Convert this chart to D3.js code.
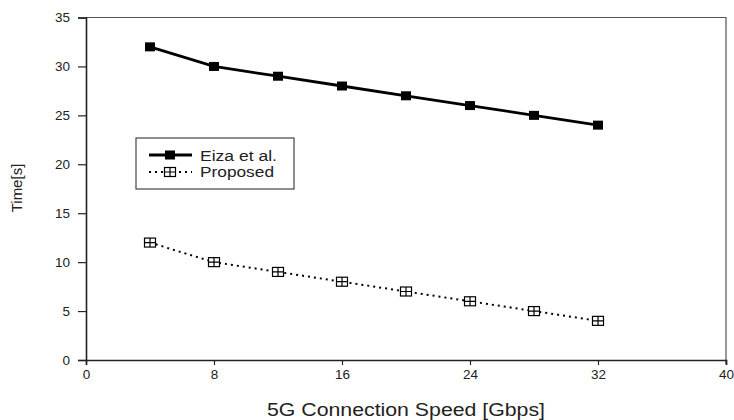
<!DOCTYPE html>
<html>
<head>
<meta charset="utf-8">
<script src="https://cdn.jsdelivr.net/npm/d3@7"></script>
<style>
  body { margin: 0; background: #fff; }
  svg text { font-family: "Liberation Sans", Arial, sans-serif; fill: #222; }
</style>
</head>
<body>
<svg id="chart" width="734" height="420"></svg>
<script>
// chart data
var speeds = [4, 8, 12, 16, 20, 24, 28, 32];
var eizaTimes = [32, 30, 29, 28, 27, 26, 25, 24];
var proposedTimes = [12, 10, 9, 8, 7, 6, 5, 4];
var xTicks = [0, 8, 16, 24, 32, 40];
var yTicks = [0, 5, 10, 15, 20, 25, 30, 35];
var seriesNames = ["Eiza et al.", "Proposed"];

var margin = { top: 17.5, right: 8, bottom: 60, left: 86 };
var width = 734 - margin.left - margin.right;
var height = 420 - margin.top - margin.bottom;

var svg = d3.select("#chart");
var g = svg.append("g")
  .attr("transform", "translate(" + margin.left + "," + margin.top + ")");

var x = d3.scaleLinear().domain([0, 40]).range([0, width]);
var y = d3.scaleLinear().domain([0, 35]).range([height, 0]);

// frame (top and right)
g.append("path")
  .attr("d", "M0,0H" + width + "V" + (height + 4))
  .attr("fill", "none")
  .attr("stroke", "#555")
  .attr("stroke-width", 1.2);

// axes
var xAxis = g.append("g")
  .attr("transform", "translate(0," + height + ")")
  .call(d3.axisBottom(x).tickValues(xTicks).tickSize(5).tickPadding(4));
var yAxis = g.append("g")
  .call(d3.axisLeft(y).tickValues(yTicks).tickSize(8).tickPadding(8));

[xAxis, yAxis].forEach(function (a) {
  a.select(".domain").attr("stroke", "#222").attr("stroke-width", 1.6);
  a.selectAll(".tick line").attr("stroke", "#222").attr("stroke-width", 1.2);
  a.selectAll("text").attr("font-size", 13.5).attr("fill", "#333");
});

// axis titles
svg.append("text")
  .attr("x", 267)
  .attr("y", 416)
  .attr("font-size", 18)
  .attr("textLength", 278)
  .attr("lengthAdjust", "spacingAndGlyphs")
  .text("5G Connection Speed [Gbps]");

svg.append("text")
  .attr("transform", "translate(22,188) rotate(-90)")
  .attr("text-anchor", "middle")
  .attr("font-size", 15)
  .text("Time[s]");

var line = d3.line()
  .x(function (d) { return x(d[0]); })
  .y(function (d) { return y(d[1]); });

var eiza = d3.zip(speeds, eizaTimes);
var proposed = d3.zip(speeds, proposedTimes);

// Eiza et al. series
g.append("path")
  .datum(eiza)
  .attr("fill", "none")
  .attr("stroke", "#000")
  .attr("stroke-width", 2.8)
  .attr("d", line);

g.selectAll(".eiza-marker")
  .data(eiza)
  .enter()
  .append("rect")
  .attr("class", "eiza-marker")
  .attr("x", function (d) { return x(d[0]) - 5; })
  .attr("y", function (d) { return y(d[1]) - 4.5; })
  .attr("width", 10)
  .attr("height", 9)
  .attr("fill", "#000");

// Proposed series
g.append("path")
  .datum(proposed)
  .attr("fill", "none")
  .attr("stroke", "#000")
  .attr("stroke-width", 2)
  .attr("stroke-dasharray", "2,4")
  .attr("d", line);

function crossSquare(sel, cx, cy) {
  sel.append("rect")
    .attr("x", cx - 5.5).attr("y", cy - 4.5)
    .attr("width", 11).attr("height", 9)
    .attr("fill", "#fff").attr("stroke", "#000").attr("stroke-width", 1.2);
  sel.append("path")
    .attr("d", "M" + (cx - 5.5) + "," + cy + "H" + (cx + 5.5) + "M" + cx + "," + (cy - 4.5) + "V" + (cy + 4.5))
    .attr("stroke", "#000").attr("stroke-width", 1.2);
}

proposed.forEach(function (d) {
  crossSquare(g.append("g"), x(d[0]), y(d[1]));
});

// legend
var legend = svg.append("g").attr("transform", "translate(136,138)");
legend.append("rect")
  .attr("width", 158).attr("height", 51)
  .attr("fill", "#fff").attr("stroke", "#444").attr("stroke-width", 1.2);

legend.append("line")
  .attr("x1", 13).attr("x2", 56).attr("y1", 17).attr("y2", 17)
  .attr("stroke", "#000").attr("stroke-width", 2.8);
legend.append("rect")
  .attr("x", 29).attr("y", 12.5).attr("width", 10).attr("height", 9).attr("fill", "#000");
legend.append("text")
  .attr("x", 64).attr("y", 23).attr("font-size", 14)
  .attr("textLength", 77).attr("lengthAdjust", "spacingAndGlyphs")
  .text(seriesNames[0]);

legend.append("line")
  .attr("x1", 13).attr("x2", 56).attr("y1", 34).attr("y2", 34)
  .attr("stroke", "#000").attr("stroke-width", 2).attr("stroke-dasharray", "2,4");
crossSquare(legend.append("g"), 34, 34);
legend.append("text")
  .attr("x", 64).attr("y", 39).attr("font-size", 14)
  .attr("textLength", 74).attr("lengthAdjust", "spacingAndGlyphs")
  .text(seriesNames[1]);
</script>
</body>
</html>
